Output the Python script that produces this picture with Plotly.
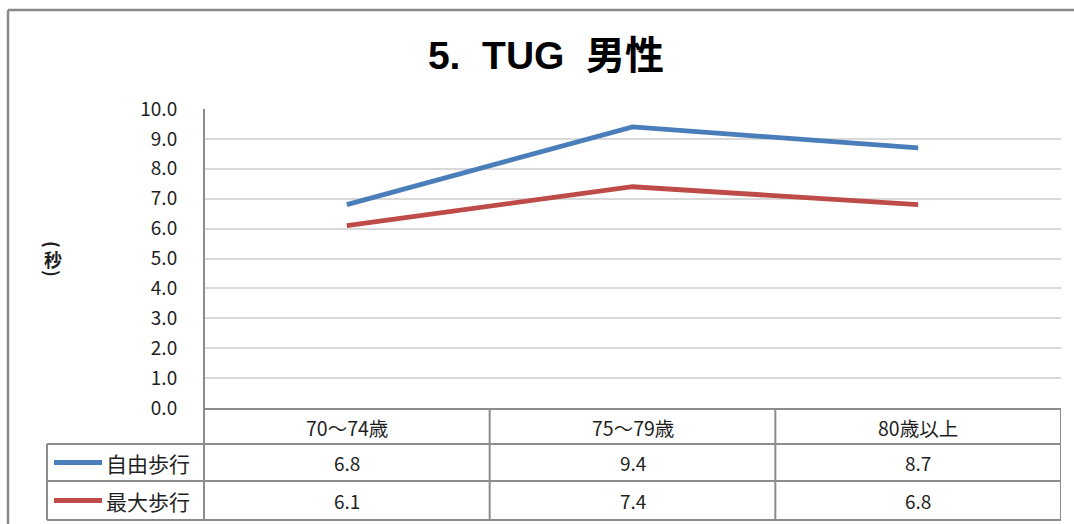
import plotly.graph_objects as go

# ---- data ----
categories = ["70～74歳", "75～79歳", "80歳以上"]
series_names = ["自由歩行", "最大歩行"]
free_walk = [6.8, 9.4, 8.7]
max_walk = [6.1, 7.4, 6.8]
series_values = [free_walk, max_walk]
series_colors = ["#4A7EBB", "#BE4B48"]
y_ticks = [0, 1, 2, 3, 4, 5, 6, 7, 8, 9, 10]

W, H = 1074, 524
# plot-area edges in pixels
L, R, T, B = 204, 1061, 109, 408


def px_x(p):
    return (p - L) / (R - L)


def px_y(p):
    return (B - p) / (B - T)


FONT = "Noto Sans CJK JP, Noto Sans, sans-serif"
TXT = "#1F1F1F"
GRID = "#D9D9D9"
EDGE = "#8C8C8C"

x_pos = [i + 0.5 for i in range(len(categories))]

fig = go.Figure()
for name, vals, col in zip(series_names, series_values, series_colors):
    fig.add_trace(go.Scatter(
        x=x_pos, y=vals, mode="lines", name=name,
        line=dict(color=col, width=4.8), showlegend=False,
        hoverinfo="skip",
    ))

shapes = []
annotations = []


def label(x, y, text, size, xref="paper", xanchor="center", angle=0, bold=False):
    annotations.append(dict(
        x=x, y=y, xref=xref, yref="paper", text=f"<b>{text}</b>" if bold else text,
        showarrow=False, xanchor=xanchor, yanchor="middle", textangle=angle,
        font=dict(family=FONT, size=size, color=TXT)))


def hline(x0, x1, y, color=EDGE, width=2):
    shapes.append(dict(type="line", xref="paper", yref="paper",
                       x0=x0, x1=x1, y0=y, y1=y, line=dict(color=color, width=width)))


def vline(x, y0, y1, xref="paper", color=EDGE, width=2):
    shapes.append(dict(type="line", xref=xref, yref="paper",
                       x0=x, x1=x, y0=y0, y1=y1, line=dict(color=color, width=width)))


# outer chart frame (top and left edges)
hline(px_x(8), px_x(1080), px_y(10), color="#8A8A8A", width=2.5)
vline(px_x(8), px_y(10), px_y(530), color="#8A8A8A", width=2.5)

# value axis line running down through the table
vline(0, px_y(T), px_y(520))

# table rows
row_tops = [409, 444, 481, 520]
hline(0, 1, px_y(row_tops[0]))
for yy in row_tops[1:]:
    hline(px_x(47), 1, px_y(yy))
# table columns
for xi in range(1, len(categories) + 1):
    vline(xi, px_y(row_tops[0]), px_y(row_tops[-1]), xref="x")
vline(px_x(47), px_y(row_tops[1]), px_y(row_tops[-1]))

# header cells
hdr_mid = (row_tops[0] + row_tops[1]) / 2 + 1
for xp, cat in zip(x_pos, categories):
    label(xp, px_y(hdr_mid), cat, 19.5, xref="x")

# series rows: legend key, name, values
for r, (name, vals, col) in enumerate(zip(series_names, series_values, series_colors)):
    mid = (row_tops[r + 1] + row_tops[r + 2]) / 2
    hline(px_x(54), px_x(102), px_y(mid), color=col, width=5)
    label(px_x(104), px_y(mid), name, 21, xanchor="left")
    for xp, v in zip(x_pos, vals):
        label(xp, px_y(mid), f"{v:.1f}", 19, xref="x")

# vertical axis title: （秒） stacked, brackets turned sideways
label(px_x(53), px_y(244), "(", 18, angle=90, bold=True)
label(px_x(53), px_y(259), "秒", 18, bold=True)
label(px_x(53), px_y(273), ")", 18, angle=90, bold=True)

fig.update_layout(
    width=W, height=H,
    margin=dict(l=L, r=W - R, t=T, b=H - B, pad=0),
    paper_bgcolor="white", plot_bgcolor="white",
    title=dict(text="<b>5.  TUG  男性</b>", x=546 / W, xanchor="center",
               y=1 - 55 / H, yanchor="middle",
               font=dict(family="Liberation Sans, Noto Sans CJK JP, sans-serif",
                         size=39, color="#000000")),
    xaxis=dict(range=[0, len(categories)], showgrid=False, zeroline=False,
               showticklabels=False, showline=False, ticks=""),
    yaxis=dict(range=[0, 10], tickvals=y_ticks, tickformat=".1f",
               showgrid=True, gridcolor=GRID, gridwidth=2, zeroline=False,
               showline=False, ticks="outside", ticklen=22,
               tickcolor="rgba(0,0,0,0)",
               tickfont=dict(family=FONT, size=19, color=TXT)),
    shapes=shapes, annotations=annotations,
)

fig.write_html("out.html")
